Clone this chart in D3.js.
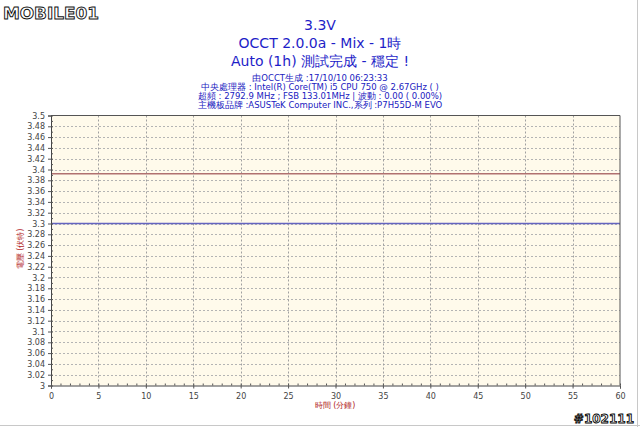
<!DOCTYPE html>
<html><head><meta charset="utf-8">
<script src="https://cdn.jsdelivr.net/npm/d3@7"></script>
<style>body{margin:0;background:#fff;} svg{display:block;}</style>
</head><body>
<script>
const titleLines = ["3.3V", "OCCT 2.0.0a - Mix - 1時", "Auto (1h) 測試完成 - 穩定 !"];
const infoLines = ["由OCCT生成 :17/10/10 06:23:33",
  "中央處理器 : Intel(R) Core(TM) i5 CPU 750 @ 2.67GHz (  )",
  "超頻 : 2792.9 MHz ; FSB 133.01MHz | 波動 : 0.00 ( 0.00%)",
  "主機板品牌 :ASUSTeK Computer INC.,系列 :P7H55D-M EVO"];
const xTicks = [0,5,10,15,20,25,30,35,40,45,50,55,60];
const yTicks = [3,3.02,3.04,3.06,3.08,3.1,3.12,3.14,3.16,3.18,3.2,3.22,3.24,3.26,3.28,3.3,3.32,3.34,3.36,3.38,3.4,3.42,3.44,3.46,3.48,3.5];
const timeMin = [0,5,10,15,20,25,30,35,40,45,50,55,60];
const maxVolt = [3.392,3.392,3.392,3.392,3.392,3.392,3.392,3.392,3.392,3.392,3.392,3.392,3.392];
const curVolt = [3.30,3.30,3.30,3.30,3.30,3.30,3.30,3.30,3.30,3.30,3.30,3.30,3.30];

const W=640,H=427;
const svg=d3.select("body").append("svg").attr("width",W).attr("height",H);
const m={l:51,r:620,t:115.5,b:385.5};
const x=d3.scaleLinear().domain([0,60]).range([m.l,m.r]);
const y=d3.scaleLinear().domain([3,3.5]).range([m.b,m.t]);
const font="Verdana, 'DejaVu Sans', sans-serif";

// frame lines
svg.append("line").attr("x1",637.5).attr("x2",637.5).attr("y1",0).attr("y2",H).attr("stroke","#c8c8c8");
svg.append("line").attr("x1",0).attr("x2",W).attr("y1",425.5).attr("y2",425.5).attr("stroke","#c8c8c8");

// logo
svg.append("text").attr("x",3).attr("y",19).attr("font-family","'DejaVu Sans', sans-serif").attr("font-weight","bold")
  .attr("font-size",16).attr("textLength",96).attr("lengthAdjust","spacingAndGlyphs")
  .attr("fill","#fff").attr("stroke","#111").attr("stroke-width",0.9).text("MOBILE01");

// titles
const tY=[30,48,66];
svg.selectAll(".title").data(titleLines).join("text")
  .attr("x",320).attr("y",(d,i)=>tY[i]).attr("text-anchor","middle")
  .attr("font-family",font).attr("font-size",14).attr("fill","#1e1ec8").text(d=>d);
const iY=[81,90,99,108];
svg.selectAll(".info").data(infoLines).join("text")
  .attr("x",320).attr("y",(d,i)=>iY[i]).attr("text-anchor","middle")
  .attr("font-family",font).attr("font-size",8.5).attr("fill","#2020c0").text(d=>d);

// plot bg
svg.append("rect").attr("x",m.l).attr("y",m.t).attr("width",m.r-m.l).attr("height",m.b-m.t).attr("fill","#fffaeb");

// grid
svg.append("g").selectAll("line").data(yTicks.slice(1,-1)).join("line")
  .attr("x1",m.l).attr("x2",m.r).attr("y1",d=>Math.round(y(d))+0.5).attr("y2",d=>Math.round(y(d))+0.5)
  .attr("stroke","#b4b4b4").attr("stroke-dasharray","2,2");
svg.append("g").selectAll("line").data(xTicks.slice(1,-1)).join("line")
  .attr("y1",m.t).attr("y2",m.b).attr("x1",d=>Math.round(x(d))+0.5).attr("x2",d=>Math.round(x(d))+0.5)
  .attr("stroke","#a0a0a0").attr("stroke-dasharray","2,2");

// series
const line=d3.line().x((d,i)=>x(timeMin[i])).y(d=>y(d));
svg.append("path").datum(maxVolt).attr("d",line).attr("fill","none").attr("stroke","#b07070").attr("stroke-width",1.5);
svg.append("path").datum(curVolt).attr("d",line).attr("fill","none").attr("stroke","#6464c0").attr("stroke-width",1.5);

// border
svg.append("line").attr("x1",m.l).attr("x2",m.r).attr("y1",m.t).attr("y2",m.t).attr("stroke","#555");
svg.append("line").attr("x1",m.r).attr("x2",m.r).attr("y1",m.t).attr("y2",m.b).attr("stroke","#555");

// axes
const yAx=d3.axisLeft(y).tickValues(yTicks).tickSize(3).tickFormat(d=>d3.format("")(+d.toFixed(2)));
const gy=svg.append("g").attr("transform",`translate(${m.l},0)`).call(yAx);
const yMinor=d3.range(0,51).map(i=>3+i*0.01);
svg.append("g").attr("transform",`translate(${m.l},0)`).call(d3.axisRight(y).tickValues(yMinor).tickSize(2).tickFormat(""))
  .select(".domain").remove();
const gx=svg.append("g").attr("transform",`translate(0,${m.b})`).call(d3.axisBottom(x).tickValues(xTicks).tickSize(3));
svg.append("g").attr("transform",`translate(0,${m.b})`).call(d3.axisTop(x).tickValues(d3.range(0,61)).tickSize(2).tickFormat(""))
  .select(".domain").remove();
[gy,gx].forEach(g=>{
  g.selectAll("text").attr("font-family",font).attr("font-size",8).attr("fill","#444");
  g.select(".domain").attr("stroke","#444");
});
svg.selectAll(".tick line").attr("stroke","#555");
gx.selectAll("text").attr("dy","0.9em");

// axis labels
svg.append("text").attr("transform","translate(23,249) rotate(-90)").attr("text-anchor","middle")
  .attr("font-family",font).attr("font-size",8).attr("fill","#b02020").text("電壓 (伏特)");
svg.append("text").attr("x",335).attr("y",408).attr("text-anchor","middle")
  .attr("font-family",font).attr("font-size",8).attr("fill","#b02020").text("時間 (分鐘)");

// watermark id
svg.append("text").attr("x",634).attr("y",423).attr("text-anchor","end").attr("font-family","'DejaVu Sans', sans-serif")
  .attr("font-weight","bold").attr("font-size",12).attr("fill","#fff").attr("stroke","#000").attr("stroke-width",0.9).text("#102111");
</script>
</body></html>
